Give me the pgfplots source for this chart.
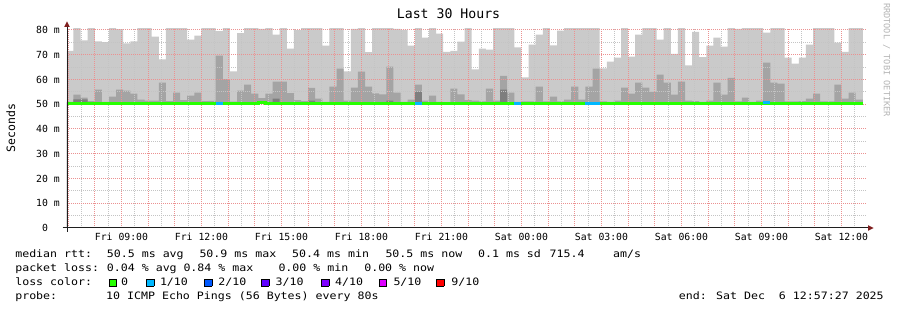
\documentclass[border=0pt]{standalone}
\usepackage{pgfplots}
\pgfplotsset{compat=1.18}
\usepackage{pgfplotstable}
\usepackage{fontspec}
\usetikzlibrary{arrows.meta}
\setmainfont{DejaVu Sans Mono}
\newfontfamily\legfont[FakeStretch=1.137]{DejaVu Sans Mono}
\definecolor{smokeA}{HTML}{CACACA}
\definecolor{smokeB}{HTML}{A4A4A4}
\definecolor{smokeC}{HTML}{7E7E7E}
\definecolor{lossgreen}{HTML}{26FF00}
\definecolor{lossA}{HTML}{00B8FF}
\definecolor{lossB}{HTML}{0059FF}
\definecolor{lossC}{HTML}{5E00FF}
\definecolor{lossD}{HTML}{7E00FF}
\definecolor{lossE}{HTML}{DD00FF}
\definecolor{lossF}{HTML}{FF0000}
\definecolor{arrowred}{HTML}{801F1F}
\definecolor{mgrid}{RGB}{236,145,145}
\definecolor{ngrid}{RGB}{196,196,196}
\definecolor{wmgray}{HTML}{B4B4B4}
\setlength{\fboxsep}{0pt}
\setlength{\fboxrule}{0.6pt}
\newcommand{\lbox}[1]{\fcolorbox{black}{#1}{\rule{0pt}{6.3pt}\rule{6.8pt}{0pt}}}
\tikzset{
  majgrid/.style={draw=mgrid, line width=1pt, dash pattern=on 1pt off 1pt},
  mingrid/.style={draw=ngrid, line width=1pt, dash pattern=on 1pt off 1pt},
}

% x = hours since Fri 00:00 (left edge of each 16-minute step), max = highest ping,
% p9 / p8 = 9th and 8th of 10 pings, med = median rtt (all in ms)
\pgfplotstableread{
x max p9 p8 med
6.9575 71.6 51.0 50.8 50.5
7.2000 81 53.9 52.0 50.5
7.4667 75.8 52.7 52.0 50.5
7.7333 81 51.3 50.8 50.5
8.0000 75.4 55.9 50.8 50.5
8.2667 75.1 51.0 50.8 50.2
8.5333 81 53.1 50.8 50.2
8.8000 80.4 55.9 50.8 50.2
9.0667 74.6 55.5 50.8 50.2
9.3333 75.4 54.3 50.8 50.2
9.6000 81 51.9 50.8 50.5
9.8667 81 51.5 50.8 50.5
10.1333 77.3 51.5 50.8 50.2
10.4000 68.1 58.7 50.8 50.5
10.6667 81 51.3 50.8 50.5
10.9333 81 54.7 50.8 50.5
11.2000 81 51.7 50.8 50.5
11.4667 76.1 53.5 50.8 50.5
11.7333 77.7 54.7 50.8 50.5
12.0000 81 51.3 50.8 50.2
12.2667 81 51.4 50.8 50.2
12.5333 79.5 69.6 50.8 50.5
12.8000 81 60.1 50.8 50.5
13.0667 63.3 51.1 50.8 50.5
13.3333 78.7 55.5 50.8 50.5
13.6000 81 57.9 50.8 50.2
13.8667 81 54.3 50.8 50.5
14.1333 80.5 52.5 50.8 50.6
14.4000 81 54.3 50.8 50.5
14.6667 78.1 59.1 52.3 50.5
14.9333 81 59.1 50.8 50.5
15.2000 72.5 54.5 50.8 50.5
15.4667 79.9 51.7 50.8 50.5
15.7333 81 51.3 50.8 50.5
16.0000 81 56.6 51.5 50.5
16.2667 81 52.3 50.8 50.5
16.5333 73.7 51.0 50.8 50.5
16.8000 81 57.1 50.8 50.5
17.0667 81 64.4 50.8 50.5
17.3333 63.3 51.5 50.8 50.5
17.6000 80.5 56.7 50.8 50.5
17.8667 81 63.2 50.8 50.5
18.1333 71.1 57.1 50.8 50.5
18.4000 81 54.4 50.8 50.5
18.6667 81 54.0 50.8 50.5
18.9333 81 65.2 51.5 50.5
19.2000 80.5 54.7 50.8 50.5
19.4667 80.0 51.0 50.8 50.5
19.7333 73.7 51.9 50.8 50.5
20.0000 81 57.9 55.1 50.5
20.2667 76.9 51.5 50.8 50.5
20.5333 81 53.5 50.8 50.2
20.8000 78.5 51.0 50.8 50.2
21.0667 71.2 50.8 50.8 50.5
21.3333 71.6 56.3 50.8 50.5
21.6000 75.3 54.0 50.8 50.5
21.8667 81 51.7 50.8 50.5
22.1333 64.1 51.5 50.8 50.5
22.4000 72.5 51.2 50.8 50.5
22.6667 72.1 56.3 50.8 50.2
22.9333 81 51.5 50.8 50.5
23.2000 81 61.5 55.9 50.5
23.4667 81 54.7 50.8 50.2
23.7333 73.0 51.0 50.8 50.5
24.0000 60.9 51.2 50.8 50.5
24.2667 74.1 51.2 50.8 50.5
24.5333 78.1 57.1 50.8 50.5
24.8000 81 51.2 50.8 50.5
25.0667 73.8 53.1 50.8 50.5
25.3333 79.7 51.2 50.8 50.5
25.6000 81 51.9 50.8 50.5
25.8667 81 57.1 50.8 50.5
26.1333 81 51.9 50.8 50.2
26.4000 81 57.1 50.8 50.5
26.6667 81 64.4 50.8 50.5
26.9333 64.5 51.2 50.8 50.5
27.2000 67.2 51.0 50.8 50.5
27.4667 68.8 51.5 50.8 50.5
27.7333 81 56.7 50.8 50.5
28.0000 69.2 54.3 50.8 50.5
28.2667 78.1 58.7 50.8 50.5
28.5333 81 56.7 50.8 50.5
28.8000 81 55.0 50.8 50.5
29.0667 76.1 62.0 50.8 50.5
29.3333 81 58.7 50.8 50.5
29.6000 70.4 53.9 50.8 50.5
29.8667 81 59.1 50.8 50.5
30.1333 65.7 51.5 50.8 50.2
30.4000 79.2 51.3 50.8 50.2
30.6667 69.0 51.0 50.8 50.2
30.9333 73.7 51.5 50.8 50.5
31.2000 76.9 58.7 50.8 50.2
31.4667 73.3 53.9 50.8 50.2
31.7333 81 60.7 50.8 50.5
32.0000 80.5 51.2 50.8 50.2
32.2667 81 52.7 50.8 50.2
32.5333 81 51.0 50.8 50.2
32.8000 81 51.5 50.8 50.5
33.0667 78.9 66.8 50.8 50.5
33.3333 81 58.7 50.8 50.5
33.6000 81 58.3 50.8 50.2
33.8667 68.8 51.2 50.8 50.5
34.1333 66.4 51.2 50.8 50.2
34.4000 68.8 51.3 50.8 50.2
34.6667 74.1 52.3 50.8 50.5
34.9333 81 54.3 50.8 50.5
35.2000 81 51.2 50.8 50.2
35.4667 81 51.2 50.8 50.5
35.7333 74.9 57.9 50.8 50.2
36.0000 71.2 52.3 50.8 50.5
36.2667 81 54.7 50.8 50.5
36.5333 81 51.9 50.8 50.5
36.8000 81 51.9 50.8 50.5
}\smoke

\begin{document}
\begin{tikzpicture}[x=1pt,y=1pt]
\path[use as bounding box] (0,0) rectangle (897,310);
\begin{axis}[
  at={(67pt,82pt)}, anchor=south west,
  scale only axis, width=800pt, height=199.98pt,
  xmin=6.9575, xmax=36.9575, ymin=0, ymax=80.8,
  axis line style={draw=none},
  major tick length=0pt, minor tick length=0pt,
  xtick={7,...,36},
  xticklabels={,,Fri 09:00,,,Fri 12:00,,,Fri 15:00,,,Fri 18:00,,,Fri 21:00,,,Sat 00:00,,,Sat 03:00,,,Sat 06:00,,,Sat 09:00,,,Sat 12:00},
  ytick={0,10,...,80},
  yticklabels={0\phantom{\ m},10 m,20 m,30 m,40 m,50 m,60 m,70 m,80 m},
  tick label style={font=\fontsize{9.8}{11}\selectfont, inner sep=0pt},
  xticklabel style={anchor=north, yshift=-5pt},
  yticklabel style={anchor=east, xshift=-7pt},
  title={Last 30 Hours},
  title style={at={(rel axis cs:0.4769,1.02)}, anchor=base, inner sep=0pt, font=\fontsize{13.2}{15}\selectfont},
  ylabel={Seconds},
  every axis y label/.style={at={(rel axis cs:-0.07025,0.5)}, rotate=90, anchor=center, inner sep=0pt, font=\fontsize{11.5}{13}\selectfont},
]
\addplot[const plot, fill=smokeA, draw=none] table[x=x,y=max]{\smoke} \closedcycle;
\addplot[const plot, fill=smokeB, draw=none] table[x=x,y=p9]{\smoke} \closedcycle;
\addplot[const plot, fill=smokeC, draw=none] table[x=x,y=p8]{\smoke} \closedcycle;
% lower bound of the smoke (min rtt)
\addplot[fill=white, draw=none] coordinates {(6.9575,50.0) (36.9575,50.0)} \closedcycle;
% grid (snapped to whole pixels): minor every 30 min / 5 ms, major every hour / 10 ms
\foreach \h in {7.5,8.5,...,36.5}{%
  \pgfmathsetmacro\xd{6.9575+(floor(67+(\h-6.9575)*26.66667)+0.5-67)/26.66667}%
  \edef\tmp{\noexpand\draw[mingrid] (axis cs:\xd,0) -- (axis cs:\xd,80.8);}\tmp}
\foreach \v in {5,15,...,75}{%
  \pgfmathsetmacro\yd{(228-(floor(228-\v*2.475)+0.5))/2.475}%
  \edef\tmp{\noexpand\draw[mingrid] (axis cs:6.9575,\yd) -- (axis cs:36.9575,\yd);}\tmp}
\foreach \h in {7,...,36}{%
  \pgfmathsetmacro\xd{6.9575+(floor(67+(\h-6.9575)*26.66667)+0.5-67)/26.66667}%
  \edef\tmp{\noexpand\draw[majgrid] (axis cs:\xd,0) -- (axis cs:\xd,80.8);}\tmp}
\foreach \v in {10,20,...,80}{%
  \pgfmathsetmacro\yd{(228-(floor(228-\v*2.475)+0.5))/2.475}%
  \edef\tmp{\noexpand\draw[majgrid] (axis cs:6.9575,\yd) -- (axis cs:36.9575,\yd);}\tmp}
% median line, coloured by loss
\addplot[const plot, draw=lossgreen, line width=3pt] table[x=x,y=med]{\smoke};
\addplot[draw=lossA, line width=3pt] coordinates {(12.5333,50.5) (12.8,50.5)};
\addplot[draw=lossA, line width=3pt] coordinates {(20.0,50.5) (20.2667,50.5)};
\addplot[draw=lossA, line width=3pt] coordinates {(23.7333,50.5) (24.0,50.5)};
\addplot[draw=lossA, line width=3pt] coordinates {(26.4,50.5) (26.9333,50.5)};
\addplot[draw=lossA, line width=3pt] coordinates {(33.0667,50.6) (33.3333,50.6)};
\end{axis}
% axis lines with arrows
\draw[line width=1pt, black!88] (62.7,82) -- (868.5,82);
\fill[arrowred] (868,84.8) -- (873.5,82) -- (868,79.2) -- cycle;
\draw[line width=1pt, black!88] (67,78) -- (67,283.5);
\fill[arrowred] (64.2,283) -- (67,288.5) -- (69.8,283) -- cycle;
% watermark
\node[rotate=-90, text=wmgray, inner sep=0pt, font=\fontsize{8.6}{10}\selectfont] at (886.7,250) {RRDTOOL / TOBI OETIKER};
% legend
\begin{scope}[every node/.style={anchor=base west, inner sep=0pt, font=\legfont\fontsize{10.2}{12}\selectfont}]
\node at (15.1,52.2) {median rtt:};
\node at (106.7,52.2) {50.5 ms avg};
\node at (199.3,52.2) {50.9 ms max};
\node at (292,52.2) {50.4 ms min};
\node at (385.3,52.2) {50.5 ms now};
\node at (477.9,52.2) {0.1 ms sd};
\node at (549.4,52.2) {715.4};
\node at (612.9,52.2) {am/s};
\node at (15.1,38.2) {packet loss:};
\node at (106.7,38.2) {0.04 \% avg};
\node at (183.3,38.2) {0.84 \% max};
\node at (278.3,38.2) {0.00 \% min};
\node at (364.1,38.2) {0.00 \% now};
\node at (15.1,24.2) {loss color:};
\node at (108.7,24.2) {\lbox{lossgreen}};
\node at (121.0,24.2) {0};
\node at (145.9,24.2) {\lbox{lossA}};
\node at (159.8,24.2) {1/10};
\node at (204.2,24.2) {\lbox{lossB}};
\node at (218.2,24.2) {2/10};
\node at (260.9,24.2) {\lbox{lossC}};
\node at (275.4,24.2) {3/10};
\node at (320.9,24.2) {\lbox{lossD}};
\node at (334.9,24.2) {4/10};
\node at (378.7,24.2) {\lbox{lossE}};
\node at (393.3,24.2) {5/10};
\node at (435.9,24.2) {\lbox{lossF}};
\node at (451.1,24.2) {9/10};
\node at (15.1,10.2) {probe:};
\node at (106,10.2) {10 ICMP Echo Pings (56 Bytes) every 80s};
\node at (678.7,10.2) {end: Sat Dec\ \ 6 12:57:27 2025};
\end{scope}
\end{tikzpicture}
\end{document}
